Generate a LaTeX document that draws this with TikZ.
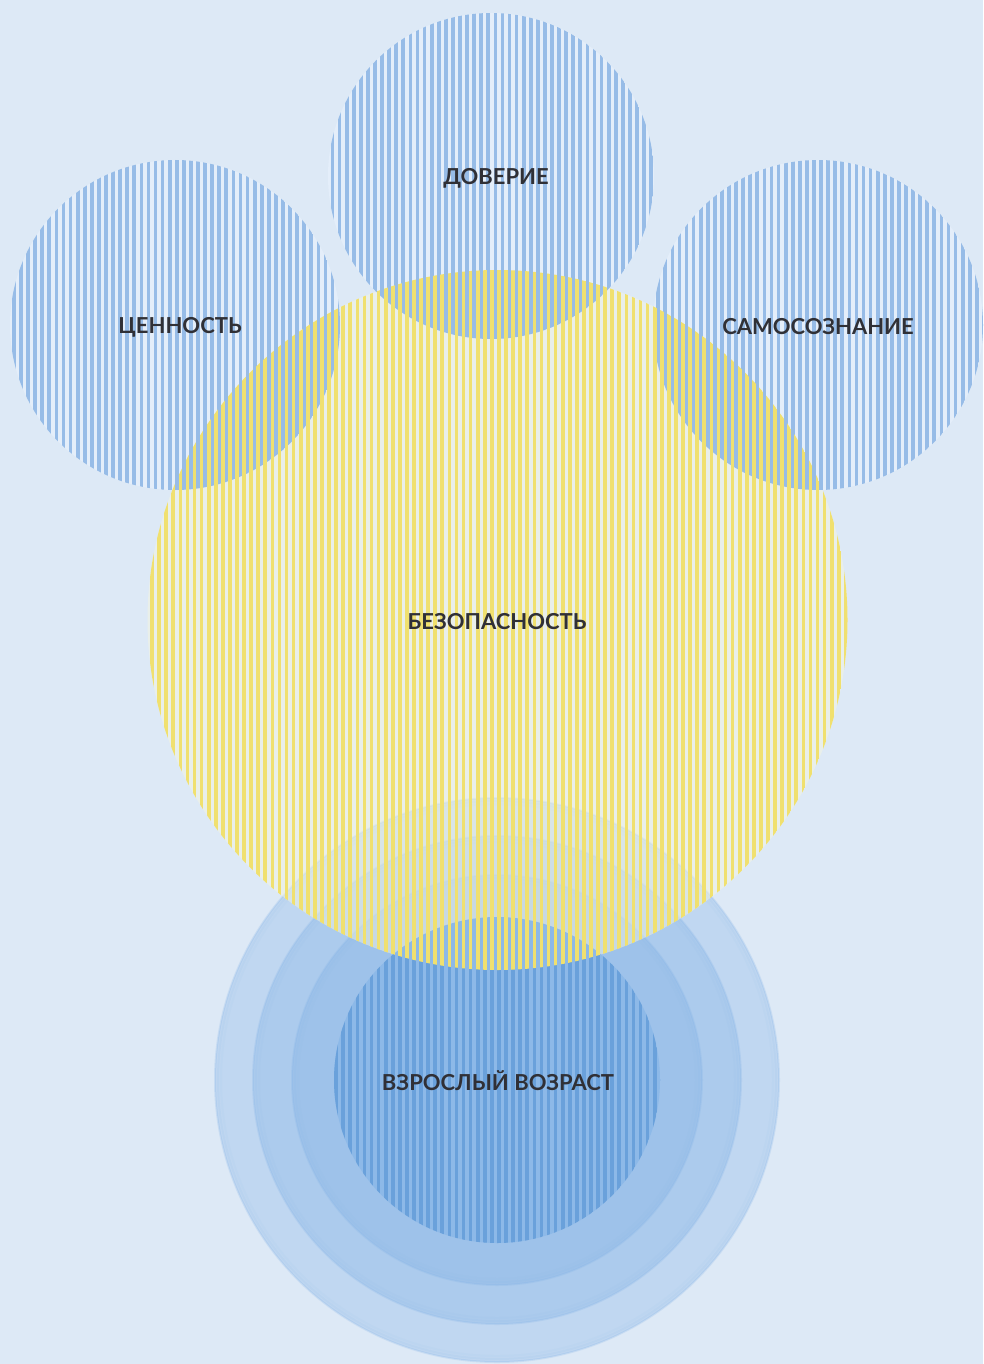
\documentclass[tikz,border=0pt]{standalone}
\usepackage{fontspec}
\setmainfont{Lato}
\definecolor{bg}{HTML}{DDE9F6}
\definecolor{bluestripe}{HTML}{97BCE7}
\definecolor{bluegap}{HTML}{E4EEFA}
\definecolor{yelstripe}{HTML}{F0E06F}
\definecolor{yelgap}{HTML}{F9F7DC}
\definecolor{ringblue}{HTML}{7FB0E6}
\definecolor{coregap}{HTML}{8DB9E8}
\definecolor{corestripe}{HTML}{6AA1DB}
\definecolor{ink}{HTML}{303036}
% vertical stripes clipped to a disc: centre x, centre y, radius, colour, phase
\newcommand\stripedisc[5]{%
  \begin{scope}
    \clip (#1,#2) circle[radius=#3pt];
    \foreach \k in {0,...,139}
      \fill[#4] ({\k*7.08+#5},0) rectangle +(3.7,1364);
  \end{scope}}
\tikzset{
  lab/.style={text=ink, font=\fontsize{22}{22}\selectfont\bfseries, inner sep=0pt},
  softedge/.style={draw=ringblue, line width=2pt},
}
\begin{document}
\begin{tikzpicture}[x=1pt,y=-1pt]
\fill[bg] (0,0) rectangle (983,1364);
\useasboundingbox (0,0) rectangle (983,1364);

% soft concentric discs at the bottom
\foreach \r in {282,244,205}{
  \fill[ringblue, opacity=0.3] (497,1080) circle[radius=\r pt];
  \draw[softedge, opacity=0.22] (497,1080) circle[radius=\r pt];
  \draw[softedge, opacity=0.10] (497,1080) circle[radius={(\r-3)*1pt}];
  \draw[softedge, opacity=0.05] (497,1080) circle[radius={(\r-6)*1pt}];
}

% pale haze of the large yellow circle
\fill[yelgap, opacity=0.45] (497.5,620) circle[radius=350pt];

% three small striped circles
\foreach \cx/\cy/\r in {491/176/163, 175/325/165, 818/325/165}{
  \fill[bluegap] (\cx,\cy) circle[radius=\r pt];
  \stripedisc{\cx}{\cy}{\r}{bluestripe}{5.0}
}

% striped core of the bottom discs
\fill[coregap] (497,1080) circle[radius=163pt];
\stripedisc{497}{1080}{163}{corestripe}{1.5}

% yellow stripes over everything
\stripedisc{497.5}{620}{350}{yelstripe}{1.5}

% labels
\node[lab] (trust)  at (496,178)  {ДОВЕРИЕ};
\node[lab] (value)  at (180,327)  {ЦЕННОСТЬ};
\node[lab] (self)   at (818,327)  {САМОСОЗНАНИЕ};
\node[lab] (safety) at (497,622)  {БЕЗОПАСНОСТЬ};
\node[lab] (adult)  at (498,1081) {ВЗРОСЛЫЙ ВОЗРАСТ};
\end{tikzpicture}
\end{document}
